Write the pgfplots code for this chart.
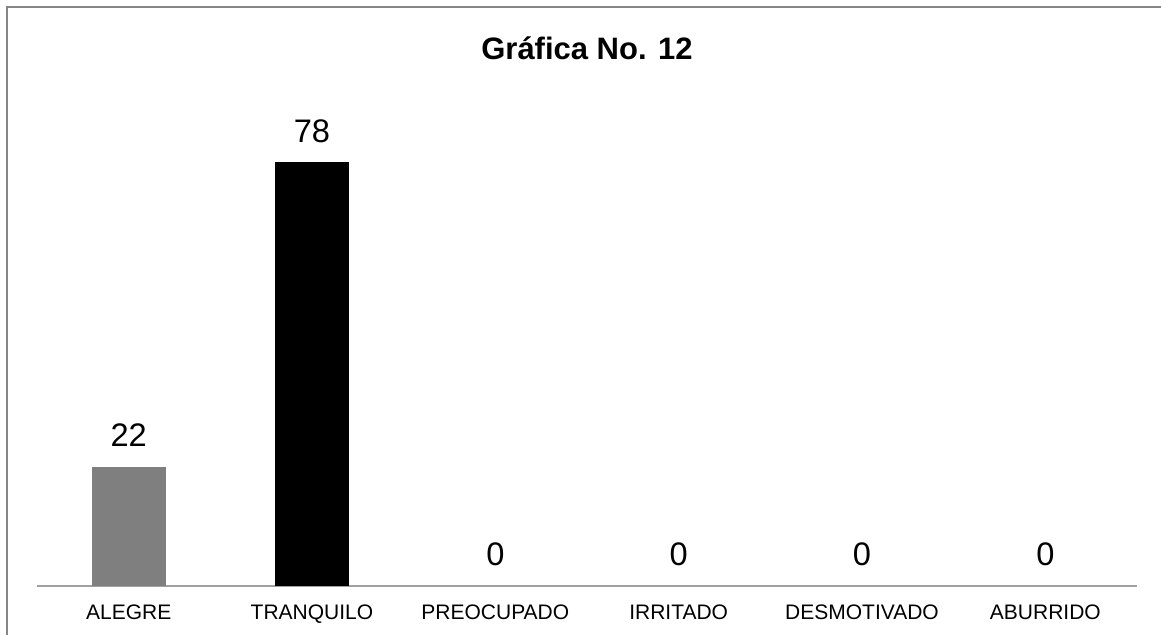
\documentclass[border=0pt]{standalone}
\usepackage{pgfplots}
\pgfplotsset{compat=1.18}
\usepackage{fontspec}
\setmainfont{Liberation Sans}
\definecolor{framegray}{HTML}{868686}
\definecolor{axisgray}{HTML}{A0A0A0}
\definecolor{bargray}{HTML}{7F7F7F}
\begin{document}
\begin{tikzpicture}
\useasboundingbox (0,0) rectangle (580.5pt,317.5pt);
% outer chart frame
\draw[framegray, line width=1.3pt] (3.5pt,0) -- (3.5pt,314pt) -- (580.5pt,314pt);
% title
\node[font=\bfseries\fontsize{15.5}{18}\selectfont] at (293.5pt,293.5pt) {Gráfica No. 12};
\begin{axis}[
  at={(18.5pt,24.5pt)}, anchor=south west,
  scale only axis,
  width=550pt, height=244.35pt,
  ybar, bar width=37pt, bar shift=0pt,
  xmin=-0.5, xmax=5.5, ymin=0, ymax=90,
  axis y line=none,
  axis x line*=bottom,
  x axis line style={axisgray, line width=0.8pt, -},
  xtick={0,1,2,3,4,5},
  xticklabels={ALEGRE,TRANQUILO,PREOCUPADO,IRRITADO,DESMOTIVADO,ABURRIDO},
  major tick length=0pt,
  xticklabel style={font=\fontsize{10.5}{12}\selectfont, yshift=-6pt},
  /pgf/number format/assume math mode=true,
  nodes near coords,
  nodes near coords style={font=\fontsize{16.3}{19}\selectfont, black, yshift=6.5pt},
  clip=false,
]
\addplot[fill=bargray, draw=none] coordinates {(0,22)};
\addplot[fill=black, draw=none] coordinates {(1,78)};
\addplot[draw=none, fill=none] coordinates {(2,0) (3,0) (4,0) (5,0)};
\end{axis}
\end{tikzpicture}
\end{document}
